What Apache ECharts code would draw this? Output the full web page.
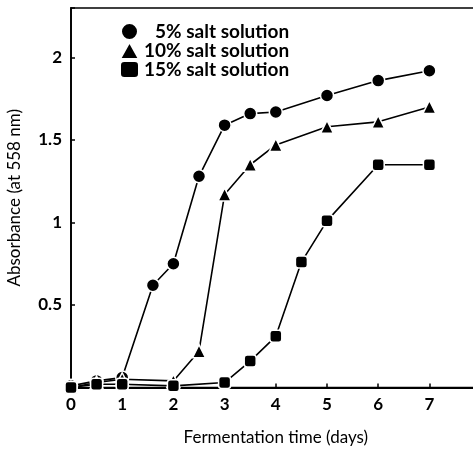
<!DOCTYPE html>
<html>
<head>
<meta charset="utf-8">
<script src="https://cdn.jsdelivr.net/npm/echarts@6/dist/echarts.min.js"></script>
<style>
  html, body { margin: 0; padding: 0; background: #fff; }
  #chart { width: 473px; height: 453px; }
</style>
</head>
<body>
<div id="chart"></div>
<script>
// fermentation time (days) and absorbance at 558 nm, per salt concentration
const days5 = [0, 0.5, 1, 1.6, 2, 2.5, 3, 3.5, 4, 5, 6, 7]
const abs5 = [0.01, 0.04, 0.06, 0.62, 0.75, 1.28, 1.59, 1.66, 1.67, 1.77, 1.86, 1.92]
const days10 = [0, 0.5, 1, 2, 2.5, 3, 3.5, 4, 5, 6, 7]
const abs10 = [0.0, 0.03, 0.05, 0.04, 0.22, 1.17, 1.35, 1.47, 1.58, 1.61, 1.70]
const days15 = [0, 0.5, 1, 2, 3, 3.5, 4, 4.5, 5, 6, 7]
const abs15 = [0.0, 0.02, 0.02, 0.01, 0.03, 0.16, 0.31, 0.76, 1.01, 1.35, 1.35]
const seriesNames = ['5% salt solution', '10% salt solution', '15% salt solution']
const xTicks = ['0', '1', '2', '3', '4', '5', '6', '7']
const yTicks = ['0.5', '1', '1.5', '2']

const FONT = 'Lato'
const pair = (xs, ys) => xs.map((x, i) => [x, ys[i]])

function makeSeries(name, data, symbol, size) {
  return {
    name: name,
    type: 'line',
    data: data,
    symbol: symbol,
    symbolSize: size,
    lineStyle: { color: '#000', width: 1.6 },
    itemStyle: { color: '#000', borderColor: '#fff', borderWidth: 1.5 },
    z: 3
  }
}

const chart = echarts.init(document.getElementById('chart'))
chart.setOption({
  animation: false,
  textStyle: { fontFamily: FONT, color: '#000' },
  grid: {
    left: 71, top: 8, width: 409.6, height: 379.5,
    outerBoundsMode: 'none',
    show: true, borderColor: '#000', borderWidth: 1.5
  },
  legend: {
    orient: 'vertical',
    left: 114, top: 17,
    itemWidth: 19, itemHeight: 17, itemGap: 0,
    textStyle: { fontFamily: FONT, fontSize: 19, fontWeight: 'bold', color: '#000' },
    formatter: n => (n === seriesNames[0] ? '\u2007' + n : n),
    data: [
      { name: seriesNames[0], icon: 'circle' },
      { name: seriesNames[1], icon: 'triangle' },
      { name: seriesNames[2], icon: 'roundRect' }
    ]
  },
  xAxis: {
    type: 'value',
    min: 0, max: 8, interval: 1,
    name: 'Fermentation time (days)',
    nameLocation: 'middle',
    nameGap: 42,
    nameTextStyle: { fontSize: 17, fontFamily: FONT, color: '#000' },
    axisLine: { lineStyle: { color: '#000', width: 1.8 } },
    axisTick: { inside: true, length: 4, lineStyle: { color: '#000', width: 1.5 } },
    axisLabel: {
      margin: 9, fontSize: 17, fontWeight: 'bold', color: '#000',
      formatter: v => (xTicks.indexOf(String(v)) >= 0 ? String(v) : '')
    },
    splitLine: { show: false }
  },
  yAxis: {
    type: 'value',
    min: 0, max: 2.3, interval: 0.5,
    name: 'Absorbance (at 558 nm)',
    nameLocation: 'middle',
    nameGap: 48,
    nameTextStyle: { fontSize: 17, fontFamily: FONT, color: '#000' },
    axisLine: { show: true, lineStyle: { color: '#000', width: 1.8 } },
    axisTick: { show: true, inside: true, length: 4, lineStyle: { color: '#000', width: 1.5 } },
    axisLabel: {
      margin: 9, fontSize: 17, fontWeight: 'bold', color: '#000',
      formatter: v => (yTicks.indexOf(String(v)) >= 0 ? String(v) : '')
    },
    splitLine: { show: false }
  },
  series: [
    makeSeries(seriesNames[0], pair(days5, abs5), 'circle', 13),
    makeSeries(seriesNames[1], pair(days10, abs10), 'triangle', 13),
    makeSeries(seriesNames[2], pair(days15, abs15), 'roundRect', 12)
  ]
})
</script>
</body>
</html>
